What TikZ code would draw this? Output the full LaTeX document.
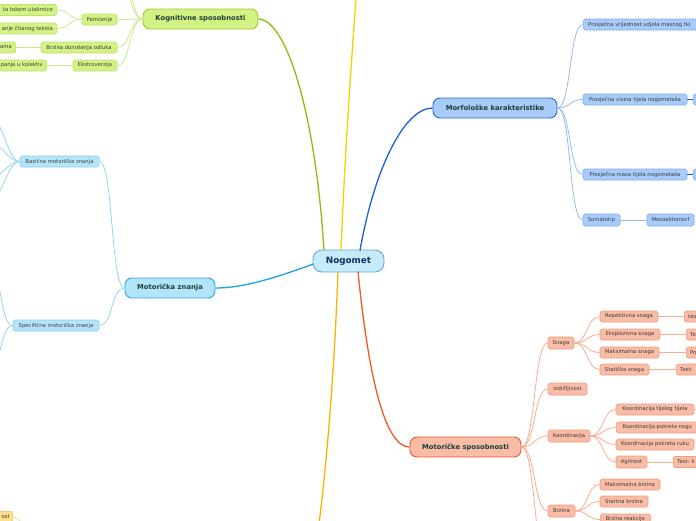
\documentclass[tikz,border=0pt]{standalone}
\usepackage{fontspec}
\setmainfont{DejaVu Sans}
\definecolor{kgF}{HTML}{D4F283}
\definecolor{kgD}{HTML}{9CCB2E}
\definecolor{kgS}{HTML}{BDE36A}
\definecolor{kgL}{HTML}{8DBB14}
\definecolor{kgl}{HTML}{C9E88E}
\definecolor{mfF}{HTML}{A8CBFA}
\definecolor{mfD}{HTML}{2A6DD8}
\definecolor{mfS}{HTML}{7EADF2}
\definecolor{mfL}{HTML}{1C5FD8}
\definecolor{mfl}{HTML}{93BBF2}
\definecolor{mzF}{HTML}{B3E5FA}
\definecolor{mzD}{HTML}{2AA6E6}
\definecolor{mzS}{HTML}{86CFF2}
\definecolor{mzL}{HTML}{1AA3E4}
\definecolor{mzl}{HTML}{90D5F4}
\definecolor{msF}{HTML}{F9BCA6}
\definecolor{msD}{HTML}{E85A2C}
\definecolor{msS}{HTML}{F39C7C}
\definecolor{msL}{HTML}{F05A28}
\definecolor{msl}{HTML}{F8AC90}
\definecolor{ngF}{HTML}{C6EBFB}
\definecolor{ngD}{HTML}{6AA6D6}
\definecolor{ngT}{HTML}{14305A}
\definecolor{ylA}{HTML}{F2D400}
\definecolor{ylB}{HTML}{F7B500}
\definecolor{ylF}{HTML}{FDDF8A}
\definecolor{ylD}{HTML}{F5C860}
\definecolor{ylS}{HTML}{FBD98A}
\definecolor{mainT}{HTML}{1D3F36}
\definecolor{subT}{HTML}{3C3C3C}
\tikzset{
  mainbox/.style={draw, rounded corners=7pt, line width=0.9pt, inner sep=0pt, minimum height=20pt, font=\bfseries\fontsize{6.8}{8}\selectfont, text=mainT},
  subbox/.style={draw, rounded corners=1.8pt, line width=0.7pt, inner sep=0pt, minimum height=11pt, font=\fontsize{5.3}{6}\selectfont, text=subT},
  subtext/.style={inner sep=0pt, font=\fontsize{5.3}{6}\selectfont, text=subT},
  kgs/.style={subbox, fill=kgF, draw=kgS},
  mfs/.style={subbox, fill=mfF, draw=mfS},
  mzs/.style={subbox, fill=mzF, draw=mzS},
  mss/.style={subbox, fill=msF, draw=msS},
  yls/.style={subbox, fill=ylF, draw=ylD},
  mainline/.style={line width=1.3pt},
  subline/.style={line width=0.8pt},
}
\begin{document}
\begin{tikzpicture}[x=1pt,y=-1pt]
\useasboundingbox (0,0) rectangle (696,520);
\clip (0,0) rectangle (696,520);

% ---------- main nodes ----------
\node[mainbox, fill=ngF, draw=ngD, rounded corners=9pt, minimum width=71pt, minimum height=22pt, font=\bfseries\fontsize{8.8}{10}\selectfont, text=ngT] (ng) at (348.5,261) {Nogomet};
\node[mainbox, fill=kgF, draw=kgD, minimum width=115pt] (kg) at (200.5,19) {Kognitivne sposobnosti};
\node[mainbox, fill=mfF, draw=mfD, minimum width=124pt] (mf) at (495,108) {Morfološke karakteristike};
\node[mainbox, fill=mzF, draw=mzD, minimum width=90pt] (mz) at (170,288) {Motorička znanja};
\node[mainbox, fill=msF, draw=msD, minimum width=111pt] (ms) at (465.5,447) {Motoričke sposobnosti};

\coordinate (ytop) at (357,-12);
\coordinate (ybot) at (318,532);

% ---------- main connectors ----------
\draw[mainline, kgL] (324,250.5) .. controls (316,120) and (288,20) .. (kg.east);
\draw[mainline, ylA] (341,250.5) .. controls (345,150) and (352,50) .. (ytop);
\draw[mainline, mfL] (360,250.5) .. controls (374,170) and (404,108) .. (mf.west);
\draw[mainline, mzL] (313.5,264) .. controls (272,279) and (242,288) .. (mz.east);
\draw[mainline, ylB] (338,271.5) .. controls (334,380) and (326,470) .. (ybot);
\draw[mainline, msL] (358,271.5) .. controls (368,372) and (384,447) .. (ms.west);

% ---------- Kognitivne sposobnosti ----------
\node[kgs, minimum width=35pt] (pam) at (99.5,19.5) {Pamćenje};
\node[kgs, minimum width=80pt, anchor=east] (pam1) at (57,10) {};
\node[subtext, anchor=east] at ([xshift=-4pt]pam1.east) {ta tokom utakmice};
\node[kgs, minimum width=80pt, anchor=east] (pam2) at (57,28.5) {};
\node[subtext, anchor=east] at ([xshift=-4pt]pam2.east) {anje čitanog teksta};
\node[kgs, minimum width=76pt] (brz) at (79,47.5) {Brzina donošenja odluka};
\node[kgs, minimum width=40pt, anchor=east] (brz1) at (16,47.5) {};
\node[subtext, anchor=east] at ([xshift=-4pt]brz1.east) {ama};
\node[kgs, minimum width=44pt] (ekst) at (95,65.5) {Ekstroverzija};
\node[kgs, minimum width=70pt, anchor=east] (ekst1) at (47,65.5) {};
\node[subtext, anchor=east] at ([xshift=-4pt]ekst1.east) {panja u kolektiv};
\coordinate (kgu1) at (117,-22);
\coordinate (kgu2) at (117,-48);

\begin{scope}[subline, kgl]
\draw (kg.west) .. controls +(-13,0) and +(13,0) .. (pam.east);
\draw (kg.west) .. controls +(-13,0) and +(13,0) .. (brz.east);
\draw (kg.west) .. controls +(-13,0) and +(13,0) .. (ekst.east);
\draw (kg.west) .. controls +(-13,0) and +(13,0) .. (kgu1);
\draw (kg.west) .. controls +(-13,0) and +(13,0) .. (kgu2);
\draw (pam.west) .. controls +(-12,0) and +(12,0) .. (pam1.east);
\draw (pam.west) .. controls +(-12,0) and +(12,0) .. (pam2.east);
\draw (brz.west) -- (brz1.east);
\draw (ekst.west) -- (ekst1.east);
\end{scope}

% ---------- Motorička znanja ----------
\node[mzs, minimum width=79pt] (baz) at (59.5,161.5) {Bazična motorička znanja};
\node[mzs, minimum width=86pt] (spec) at (56,325.5) {Specifična motorička znanja};
\coordinate (bz1) at (-10,116);
\coordinate (bz2) at (-10,143);
\coordinate (bz3) at (-10,178);
\coordinate (bz4) at (-10,200);
\coordinate (sp1) at (-10,272);
\coordinate (sp2) at (-10,365);
\begin{scope}[subline, mzl]
\draw (mz.west) .. controls +(-14,0) and +(14,0) .. (baz.east);
\draw (mz.west) .. controls +(-14,0) and +(14,0) .. (spec.east);
\draw (baz.west) .. controls +(-12,0) and +(12,0) .. (bz1);
\draw (baz.west) .. controls +(-12,0) and +(12,0) .. (bz2);
\draw (baz.west) .. controls +(-12,0) and +(12,0) .. (bz3);
\draw (baz.west) .. controls +(-12,0) and +(12,0) .. (bz4);
\draw (spec.west) .. controls +(-12,0) and +(12,0) .. (sp1);
\draw (spec.west) .. controls +(-12,0) and +(12,0) .. (sp2);
\end{scope}

% ---------- Morfološke karakteristike ----------
\node[mfs, minimum width=130pt, anchor=west] (p1) at (583,24.5) {};
\node[subtext, anchor=west] at ([xshift=5pt]p1.west) {Prosječna vrijednost udjela masnog tki};
\node[mfs, minimum width=104pt] (p2) at (635,99.5) {Prosječna visina tijela nogometaša};
\node[mfs, minimum width=40pt, anchor=west] (p2a) at (693,99.5) {};
\node[mfs, minimum width=104pt] (p3) at (635,174.5) {Prosječna masa tijela nogometaša};
\node[mfs, minimum width=40pt, anchor=west] (p3a) at (693,174.5) {};
\node[mfs, minimum width=37pt, minimum height=12pt] (som) at (601.5,220) {Somatotip};
\node[mfs, minimum width=47pt, minimum height=12pt] (mezo) at (670.5,220) {Mezoektomorf};
\begin{scope}[subline, mfl]
\draw (mf.east) .. controls +(14,0) and +(-14,0) .. (p1.west);
\draw (mf.east) .. controls +(14,0) and +(-14,0) .. (p2.west);
\draw (mf.east) .. controls +(14,0) and +(-14,0) .. (p3.west);
\draw (mf.east) .. controls +(14,0) and +(-14,0) .. (som.west);
\draw (som.east) -- (mezo.west);
\end{scope}
\draw[mfL, line width=1pt] (p2.east) -- (p2a.west);
\draw[mfL, line width=1pt] (p3.east) -- (p3a.west);

% ---------- Motoričke sposobnosti ----------
\node[mss, minimum width=26pt, minimum height=12pt] (snaga) at (561,343) {Snaga};
\node[mss, minimum width=39pt, minimum height=12pt] (izd) at (567.5,389) {Izdržljivost};
\node[mss, minimum width=42pt, minimum height=12pt] (koord) at (569,436) {Koordinacija};
\node[mss, minimum width=27pt, minimum height=12pt] (brzina) at (561.5,511) {Brzina};
\coordinate (msd) at (548,565);

\node[mss, minimum width=58pt] (rep) at (629,316.5) {Repetitivna snaga};
\node[mss, minimum width=40pt, anchor=west] (rep1) at (684,316.5) {};
\node[subtext, anchor=west] at ([xshift=4pt]rep1.west) {tes};
\node[mss, minimum width=60pt] (eks) at (630,334.5) {Eksplozivna snaga};
\node[mss, minimum width=40pt, anchor=west] (eks1) at (686,334.5) {};
\node[subtext, anchor=west] at ([xshift=4pt]eks1.west) {Te};
\node[mss, minimum width=59pt] (maks) at (629.5,352.5) {Maksimalna snaga};
\node[mss, minimum width=40pt, anchor=west] (maks1) at (686,352.5) {};
\node[subtext, anchor=west] at ([xshift=4pt]maks1.west) {Po};
\node[mss, minimum width=49pt] (stat) at (624.5,369.5) {Statička snaga};
\node[mss, minimum width=40pt, anchor=west] (stat1) at (676,369.5) {};
\node[subtext, anchor=west] at ([xshift=4pt]stat1.west) {Test:};

\node[mss, minimum width=78pt] (k1) at (655,409.5) {Koordinacija tijelog tijela};
\node[mss, minimum width=82pt, anchor=west] (k2) at (616,427.5) {Koordinacija pokreta nogu};
\node[mss, minimum width=78pt] (k3) at (655,444.5) {Koordinacija pokreta ruku};
\node[mss, minimum width=31pt, minimum height=12pt] (agil) at (631.5,462) {Agilnost};
\node[mss, minimum width=40pt, anchor=west] (agil1) at (673,462) {};
\node[subtext, anchor=west] at ([xshift=4pt]agil1.west) {Test: k};
\coordinate (k1r) at (700,409.5);

\node[mss, minimum width=60pt] (mb) at (630,484.5) {Maksimalna brzina};
\node[mss, minimum width=48pt] (sb) at (624,501.5) {Startna brzina};
\node[mss, minimum width=50pt, anchor=west] (rb) at (600,519.5) {Brzina reakcije};

\begin{scope}[subline, msl]
\draw (ms.east) .. controls +(14,0) and +(-14,0) .. (snaga.west);
\draw (ms.east) .. controls +(14,0) and +(-14,0) .. (izd.west);
\draw (ms.east) .. controls +(14,0) and +(-14,0) .. (koord.west);
\draw (ms.east) .. controls +(14,0) and +(-14,0) .. (brzina.west);
\draw (ms.east) .. controls +(14,0) and +(-14,0) .. (msd);
\draw (snaga.east) .. controls +(13,0) and +(-13,0) .. (rep.west);
\draw (snaga.east) .. controls +(13,0) and +(-13,0) .. (eks.west);
\draw (snaga.east) .. controls +(13,0) and +(-13,0) .. (maks.west);
\draw (snaga.east) .. controls +(13,0) and +(-13,0) .. (stat.west);
\draw (rep.east) -- (rep1.west);
\draw (eks.east) -- (eks1.west);
\draw (maks.east) -- (maks1.west);
\draw (stat.east) -- (stat1.west);
\draw (koord.east) .. controls +(13,0) and +(-13,0) .. (k1.west);
\draw (koord.east) .. controls +(13,0) and +(-13,0) .. (k2.west);
\draw (koord.east) .. controls +(13,0) and +(-13,0) .. (k3.west);
\draw (koord.east) .. controls +(13,0) and +(-13,0) .. (agil.west);
\draw (agil.east) -- (agil1.west);
\draw (k1.east) -- (k1r);
\draw (brzina.east) .. controls +(13,0) and +(-13,0) .. (mb.west);
\draw (brzina.east) .. controls +(13,0) and +(-13,0) .. (sb.west);
\draw (brzina.east) .. controls +(13,0) and +(-13,0) .. (rb.west);
\end{scope}

% ---------- bottom-left yellow node ----------
\node[yls, minimum width=40pt, anchor=east] (yl1) at (13,517) {};
\node[subtext, anchor=east] at ([xshift=-3pt]yl1.east) {ost};
\coordinate (yld) at (40,545);
\draw[subline, ylS] (yl1.east) .. controls +(12,0) and +(-12,0) .. (yld);
\end{tikzpicture}
\end{document}
